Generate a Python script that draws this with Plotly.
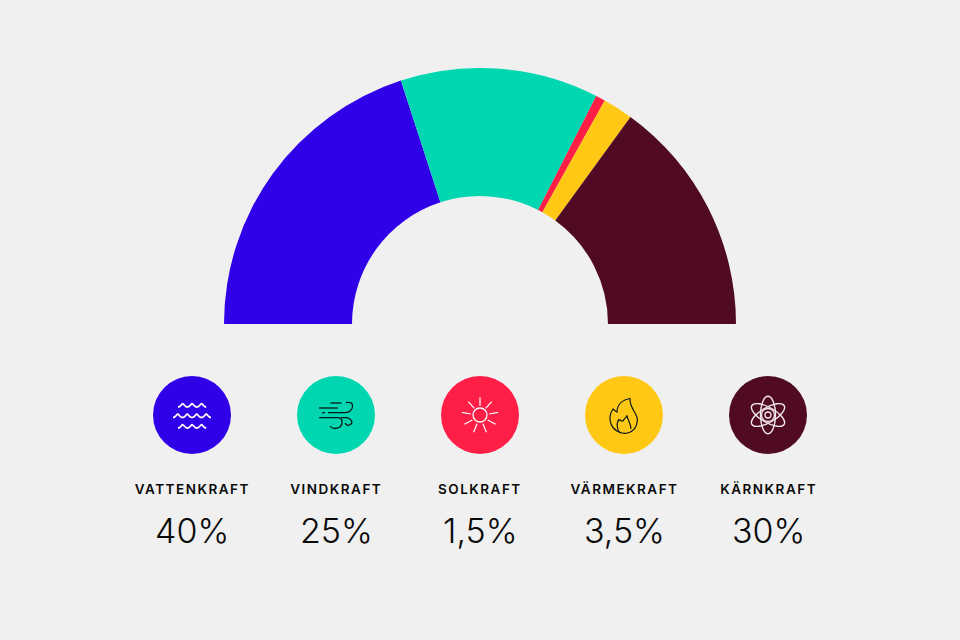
import math
import plotly.graph_objects as go

categories = ["VATTENKRAFT", "VINDKRAFT", "SOLKRAFT", "VÄRMEKRAFT", "KÄRNKRAFT"]
arc_shares = [40, 25, 1.2, 3.8, 30]
share_labels = ["40%", "25%", "1,5%", "3,5%", "30%"]
colors = ["#3000E8", "#00D7B0", "#FF1E46", "#FFC814", "#500A23"]

BG = "#F0F0F0"
W, H = 960, 640
CX = [192, 336, 480, 624, 768]
CY = 415
R = 39


def px(x):
    return x / W


def py(y):
    return 1 - y / H


def pt(x, y):
    return f"{px(x):.5f},{py(y):.5f}"


def poly(cx, cy, pts):
    return "M" + " L".join(pt(cx + a, cy + b) for a, b in pts)


def curve(cx, cy, start, segs):
    s = "M" + pt(cx + start[0], cy + start[1])
    for seg in segs:
        s += " C" + " ".join(pt(cx + a, cy + b) for a, b in seg)
    return s


def ellipse(cx, cy, a, b, rot=0):
    k = 0.5523
    raw = [(a, 0), (a, k * b), (k * a, b), (0, b), (-k * a, b), (-a, k * b), (-a, 0),
           (-a, -k * b), (-k * a, -b), (0, -b), (k * a, -b), (a, -k * b), (a, 0)]
    c, sn = math.cos(rot), math.sin(rot)
    p = [(x * c - y * sn, x * sn + y * c) for x, y in raw]
    s = "M" + pt(cx + p[0][0], cy + p[0][1])
    for i in range(1, 13, 3):
        s += " C" + " ".join(pt(cx + q[0], cy + q[1]) for q in p[i:i + 3])
    return s + " Z"


def waves(cx, cy, x0, n, w, h=3.4):
    s = "M" + pt(cx + x0, cy)
    x = x0
    for _ in range(n):
        s += " C" + pt(cx + x + w * 0.3, cy) + " " + pt(cx + x + w * 0.38, cy - h) + " " + pt(cx + x + w * 0.5, cy - h)
        s += " C" + pt(cx + x + w * 0.62, cy - h) + " " + pt(cx + x + w * 0.7, cy) + " " + pt(cx + x + w, cy)
        x += w
    return s


shapes = []


def line_shape(path, color, width=1.3):
    shapes.append(dict(type="path", xref="paper", yref="paper", path=path,
                       line=dict(color=color, width=width), fillcolor="rgba(0,0,0,0)"))


for cx, col in zip(CX, colors):
    shapes.append(dict(type="circle", xref="paper", yref="paper",
                       x0=px(cx - R), x1=px(cx + R), y0=py(CY + R), y1=py(CY - R),
                       fillcolor=col, line=dict(width=0)))

# water icon
c = CX[0]
for dy, x0, n, w in [(-8, -14, 3, 9.4), (2.5, -19, 4, 9.5), (13, -14, 3, 9.4)]:
    line_shape(waves(c, CY + dy, x0, n, w), "#FFFFFF", 1.8)

# wind icon
c = CX[1]
k = "#0B1A1A"
for a, b in [((-5.5, -12), (5.5, -12)), ((-17, -7), (2, -7)), ((-14, -2.3), (-11, -2.3))]:
    line_shape(poly(c, CY, [a, b]), k)
line_shape(curve(c, CY, (-8, -2.3), [[(0, -2.3), (4, -2.3), (9, -2.3)],
                                     [(14, -2.3), (17, -6), (16.5, -10)],
                                     [(16, -13), (13, -13), (10, -12.5)]]), k)
line_shape(curve(c, CY, (-17, 2.7), [[(-5, 2.7), (0, 2.7), (3, 2.7)],
                                     [(7, 4), (7, 9), (4, 12)],
                                     [(0, 14), (-4, 14), (-6, 11)]]), k)
line_shape(curve(c, CY, (5, 2.7), [[(8, 2.7), (9, 2.7), (11, 2.7)],
                                   [(16, 4), (17, 8), (14.5, 9.5)],
                                   [(12, 11), (10, 10), (9, 8)]]), k)

# sun icon
c = CX[2]
line_shape(ellipse(c, CY, 7, 7), "#FFFFFF", 1.3)
rays = [((150, 97), (150, 122)), ((115, 110), (133, 130)), ((185, 110), (167, 130)),
        ((96, 142), (122, 147)), ((204, 142), (178, 147)), ((103, 178), (127, 165)),
        ((197, 178), (173, 165)), ((131, 202), (141, 176)), ((169, 202), (159, 176))]
for a, b in rays:
    line_shape(poly(c, CY, [((a[0] - 150) / 3, (a[1] - 150) / 3),
                            ((b[0] - 150) / 3, (b[1] - 150) / 3)]), "#FFFFFF", 1.2)

# flame icon
c = CX[3]
line_shape(curve(c, CY, (6, -16.5),
                 [[(-2, -15), (-7, -10), (-7, -3)],
                  [(-9, -4), (-10, -5), (-11, -6)],
                  [(-14, -2), (-15, 3), (-13, 9)],
                  [(-11, 15), (-4, 18.5), (1, 18.3)],
                  [(8, 18), (13.5, 13), (13.3, 4)],
                  [(13, -2), (5, -8), (6, -16.5)]]) + " Z", k, 1.2)
line_shape(curve(c, CY, (3, 0.5),
                 [[(2, 3), (0, 4), (-1, 6)],
                  [(-3, 6), (-4, 5), (-5, 4.5)],
                  [(-8, 8), (-7, 15), (-4, 18)]]), k, 1.2)
line_shape(curve(c, CY, (3, 0.5), [[(3, 4), (7, 8), (7, 14)]]), k, 1.2)

# atom icon
c = CX[4]
for rot in (math.pi / 2, math.pi / 6, -math.pi / 6):
    line_shape(ellipse(c, CY, 18.7, 7.5, rot), "#F0E8EA", 1.4)
line_shape(ellipse(c, CY, 6.5, 6.5), "#F0E8EA", 1.3)
line_shape(ellipse(c, CY, 3, 3), "#F0E8EA", 1.3)

annotations = []
for cx, name, lab in zip(CX, categories, share_labels):
    annotations.append(dict(xref="paper", yref="paper", x=px(cx), y=py(489),
                            text=name, showarrow=False, xanchor="center", yanchor="middle",
                            font=dict(family="Inter", size=13.5, color="#0A0A0A", weight=600)))
    annotations.append(dict(xref="paper", yref="paper", x=px(cx), y=py(530),
                            text=lab, showarrow=False, xanchor="center", yanchor="middle",
                            font=dict(family="Inter", size=34, color="#0A0A0A", weight=350)))

fig = go.Figure(go.Pie(
    values=arc_shares + [sum(arc_shares)],
    marker=dict(colors=colors + ["rgba(0,0,0,0)"], line=dict(width=0)),
    hole=0.5,
    rotation=270,
    direction="clockwise",
    sort=False,
    textinfo="none",
    hoverinfo="skip",
    showlegend=False,
    domain=dict(x=[px(224), px(736)], y=[py(580), py(68)]),
))
fig.update_layout(
    width=W, height=H, margin=dict(l=0, r=0, t=0, b=0),
    paper_bgcolor=BG, plot_bgcolor=BG, showlegend=False,
    shapes=shapes, annotations=annotations,
)
post = """
document.documentElement.style.background = '#F0F0F0';
document.body.style.margin = '0';
document.body.style.overflow = 'hidden';
document.querySelectorAll('.annotation-text').forEach(function(t){
  if (/[A-Z]{4}/.test(t.textContent)) t.style.letterSpacing = '1.5px';
});
"""
fig.write_html("out.html", post_script=post, config=dict(displayModeBar=False))
